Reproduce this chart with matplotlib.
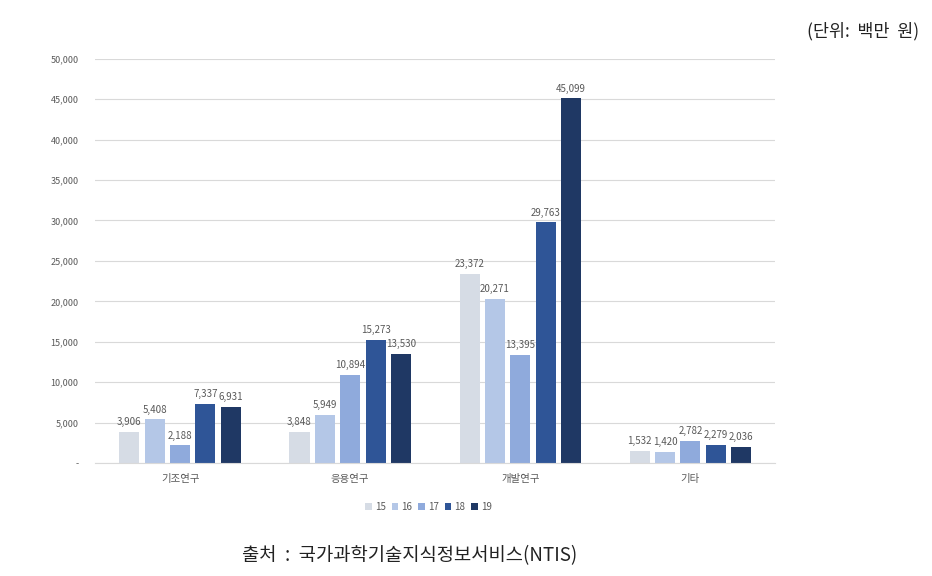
import matplotlib.pyplot as plt
import numpy as np

plt.rcParams['font.family'] = ['Noto Sans CJK KR', 'DejaVu Sans']

categories = ['기조연구', '응용연구', '개발연구', '기타']
years = ['15', '16', '17', '18', '19']
values = [
    [3906, 3848, 23372, 1532],
    [5408, 5949, 20271, 1420],
    [2188, 10894, 13395, 2782],
    [7337, 15273, 29763, 2279],
    [6931, 13530, 45099, 2036],
]
colors = ['#D6DCE5', '#B4C7E7', '#8FAADC', '#2F5597', '#1F3864']


def fmt(v):
    return '-' if v == 0 else f'{int(v):,}'


fig = plt.figure(figsize=(9.32, 5.76), dpi=100)
ax = fig.add_axes([0.102, 0.196, 0.730, 0.702])

x = np.arange(len(categories))
step = 0.149
width = 0.118
for i, (yr, vals) in enumerate(zip(years, values)):
    pos = x + (i - 2) * step
    bars = ax.bar(pos, vals, width, color=colors[i], label=yr, zorder=2)
    for b, v in zip(bars, vals):
        ax.text(b.get_x() + b.get_width() / 2, v + 600, fmt(v),
                ha='center', va='bottom', fontsize=7, color='#595959')

ax.set_xlim(-0.5, 3.5)
ax.set_ylim(0, 50000)
yt = np.arange(0, 50001, 5000)
ax.set_yticks(yt)
ax.set_yticklabels([fmt(v) for v in yt])
ax.set_xticks(x)
ax.set_xticklabels(categories)
ax.tick_params(axis='y', length=0, labelsize=6.5, labelcolor='#595959', pad=12)
ax.tick_params(axis='x', length=0, labelsize=7.5, labelcolor='#595959', pad=8)
ax.grid(axis='y', color='#D9D9D9', linewidth=0.8, zorder=0)
for s in ['top', 'right', 'left']:
    ax.spines[s].set_visible(False)
ax.spines['bottom'].set_color('#D9D9D9')

leg = ax.legend(loc='upper center', bbox_to_anchor=(0.49, -0.075), ncol=5,
                frameon=False, fontsize=7, handlelength=0.7, handleheight=0.7,
                handletextpad=0.3, columnspacing=0.6)
for t in leg.get_texts():
    t.set_color('#595959')

fig.text(0.986, 0.945, '(단위:  백만  원)', ha='right', va='center', fontsize=12.5, color='#222222')
fig.text(0.44, 0.035, '출처  :  국가과학기술지식정보서비스(NTIS)', ha='center', va='center',
         fontsize=13.5, color='#222222')

plt.savefig('out.png', dpi=100)
